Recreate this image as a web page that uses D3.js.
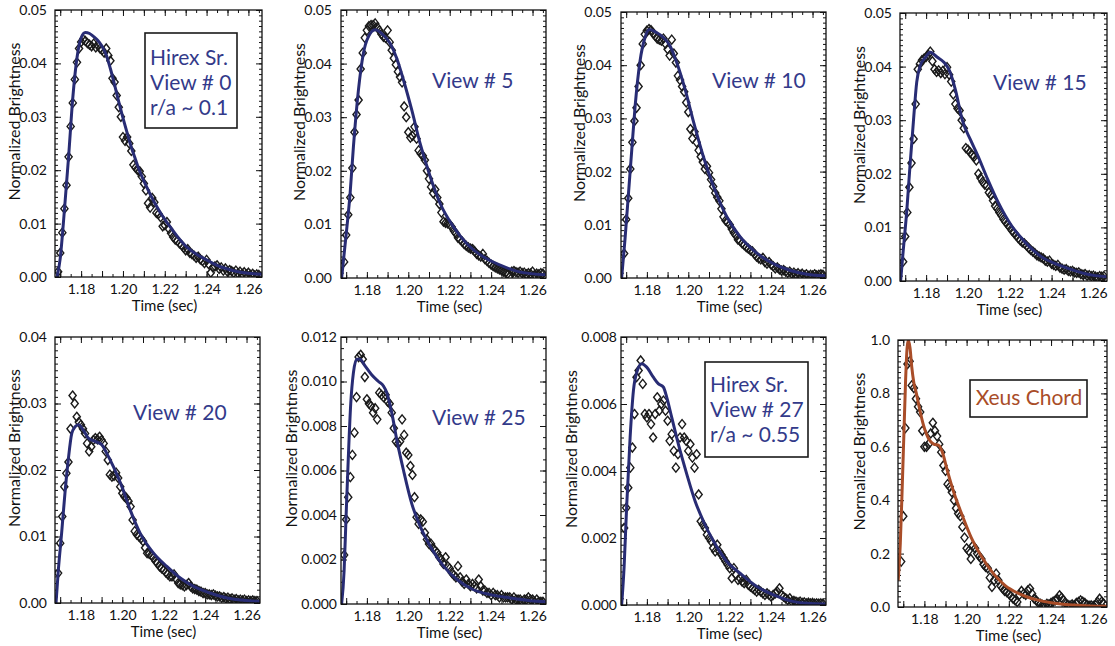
<!DOCTYPE html>
<html lang="en">
<head>
<meta charset="UTF-8">
<title>Normalized Brightness vs Time</title>
<script src="https://d3js.org/d3.v7.min.js"></script>
<style>
  body { margin: 0; background: #fff; }
  text { font-family: Lato, "Open Sans", sans-serif; }
</style>
</head>
<body>
<div id="chart"></div>
<script>
// sample times of the measured points (sec)
const times = [
  1.169,1.170,1.171,1.172,1.173,1.174,1.175,1.176,1.177,1.178,
  1.179,1.180,1.181,1.182,1.183,1.184,1.185,1.186,1.187,1.188,
  1.189,1.190,1.191,1.192,1.193,1.194,1.195,1.196,1.197,1.198,
  1.199,1.200,1.201,1.202,1.203,1.204,1.205,1.206,1.207,1.208,
  1.209,1.210,1.211,1.212,1.213,1.214,1.215,1.216,1.217,1.218,
  1.219,1.220,1.221,1.222,1.223,1.224,1.225,1.226,1.227,1.228,
  1.229,1.230,1.231,1.232,1.233,1.234,1.235,1.236,1.237,1.238,
  1.239,1.240,1.241,1.242,1.243,1.244,1.245,1.246,1.247,1.248,
  1.249,1.250,1.251,1.252,1.253,1.254,1.255,1.256,1.257,1.258,
  1.259,1.260,1.261,1.262,1.263,1.264,1.265
];

// measured brightness (diamonds), one list per view
const obsView0 = [
  0.0010,0.0045,0.0083,0.0128,0.0172,0.0225,0.0282,0.0326,0.0370,0.0402,
  0.0428,0.0440,0.0445,0.0442,0.0438,0.0435,0.0432,0.0437,0.0430,0.0434,
  0.0428,0.0425,0.0420,0.0428,0.0415,0.0405,0.0372,0.0365,0.0340,0.0318,
  0.0300,0.0262,0.0255,0.0262,0.0250,0.0236,0.0210,0.0205,0.0200,0.0198,
  0.0188,0.0175,0.0162,0.0138,0.0130,0.0148,0.0140,0.0120,0.0118,0.0112,
  0.0095,0.0097,0.0103,0.0090,0.0082,0.0075,0.0070,0.0068,0.0063,0.0060,
  0.0055,0.0050,0.0052,0.0045,0.0043,0.0040,0.0036,0.0038,0.0033,0.0030,
  0.0026,0.0032,0.0024,0.0008,0.0018,0.0020,0.0022,0.0015,0.0018,0.0012,
  0.0016,0.0010,0.0013,0.0011,0.0008,0.0012,0.0007,0.0010,0.0006,0.0009,
  0.0005,0.0008,0.0004,0.0006,0.0003,0.0005,0.0004
];
const obsView5 = [
  0.0030,0.0080,0.0118,0.0150,0.0205,0.0272,0.0305,0.0332,0.0390,0.0420,
  0.0448,0.0462,0.0470,0.0472,0.0472,0.0475,0.0468,0.0462,0.0455,0.0450,
  0.0448,0.0462,0.0440,0.0425,0.0410,0.0398,0.0385,0.0375,0.0365,0.0320,
  0.0300,0.0272,0.0262,0.0265,0.0282,0.0260,0.0238,0.0232,0.0228,0.0220,
  0.0200,0.0185,0.0170,0.0158,0.0165,0.0150,0.0138,0.0122,0.0105,0.0103,
  0.0102,0.0100,0.0095,0.0088,0.0083,0.0075,0.0072,0.0068,0.0063,0.0060,
  0.0057,0.0055,0.0054,0.0050,0.0045,0.0042,0.0040,0.0045,0.0035,0.0032,
  0.0028,0.0025,0.0022,0.0020,0.0018,0.0016,0.0014,0.0012,0.0010,0.0008,
  0.0003,0.0012,0.0013,0.0011,0.0010,0.0012,0.0009,0.0010,0.0007,0.0009,
  0.0008,0.0012,0.0006,0.0008,0.0007,0.0009,0.0008
];
const obsView10 = [
  0.0046,0.0110,0.0150,0.0205,0.0255,0.0295,0.0320,0.0360,0.0400,0.0440,
  0.0458,0.0465,0.0468,0.0466,0.0460,0.0455,0.0450,0.0448,0.0446,0.0450,
  0.0440,0.0430,0.0418,0.0448,0.0422,0.0405,0.0380,0.0372,0.0360,0.0350,
  0.0330,0.0312,0.0280,0.0262,0.0275,0.0255,0.0240,0.0228,0.0218,0.0205,
  0.0210,0.0198,0.0185,0.0172,0.0160,0.0152,0.0145,0.0130,0.0115,0.0108,
  0.0105,0.0100,0.0092,0.0085,0.0080,0.0072,0.0070,0.0065,0.0062,0.0058,
  0.0055,0.0052,0.0050,0.0045,0.0040,0.0037,0.0035,0.0038,0.0030,0.0027,
  0.0030,0.0025,0.0022,0.0018,0.0020,0.0016,0.0014,0.0015,0.0012,0.0010,
  0.0012,0.0008,0.0010,0.0007,0.0009,0.0006,0.0008,0.0005,0.0007,0.0004,
  0.0006,0.0005,0.0007,0.0005,0.0006,0.0007,0.0006
];
const obsView15 = [
  0.0036,0.0083,0.0128,0.0175,0.0220,0.0265,0.0330,0.0395,0.0405,0.0412,
  0.0415,0.0418,0.0422,0.0428,0.0410,0.0395,0.0390,0.0393,0.0388,0.0392,
  0.0386,0.0399,0.0385,0.0372,0.0348,0.0330,0.0322,0.0318,0.0300,0.0285,
  0.0248,0.0245,0.0240,0.0235,0.0232,0.0225,0.0200,0.0192,0.0185,0.0180,
  0.0178,0.0165,0.0160,0.0150,0.0140,0.0135,0.0128,0.0122,0.0115,0.0110,
  0.0105,0.0100,0.0094,0.0090,0.0085,0.0080,0.0076,0.0072,0.0070,0.0066,
  0.0062,0.0058,0.0055,0.0052,0.0048,0.0046,0.0044,0.0042,0.0038,0.0036,
  0.0038,0.0032,0.0030,0.0028,0.0030,0.0025,0.0023,0.0021,0.0022,0.0019,
  0.0018,0.0019,0.0016,0.0015,0.0016,0.0013,0.0012,0.0013,0.0010,0.0011,
  0.0009,0.0010,0.0008,0.0007,0.0009,0.0008,0.0009
];
const obsView20 = [
  0.0045,0.0090,0.0130,0.0175,0.0195,0.0212,0.0262,0.0312,0.0300,0.0280,
  0.0272,0.0268,0.0262,0.0255,0.0240,0.0228,0.0235,0.0245,0.0248,0.0246,
  0.0250,0.0245,0.0240,0.0228,0.0215,0.0193,0.0190,0.0191,0.0196,0.0188,
  0.0175,0.0165,0.0160,0.0158,0.0153,0.0145,0.0125,0.0108,0.0103,0.0100,
  0.0097,0.0093,0.0083,0.0075,0.0074,0.0072,0.0068,0.0063,0.0060,0.0055,
  0.0052,0.0050,0.0046,0.0043,0.0040,0.0040,0.0043,0.0036,0.0030,0.0028,
  0.0027,0.0025,0.0027,0.0030,0.0025,0.0022,0.0021,0.0020,0.0018,0.0017,
  0.0015,0.0015,0.0013,0.0013,0.0012,0.0013,0.0011,0.0010,0.0010,0.0008,
  0.0009,0.0007,0.0008,0.0006,0.0007,0.0005,0.0006,0.0004,0.0005,0.0004,
  0.0005,0.0003,0.0004,0.0003,0.0004,0.0003,0.0003
];
const obsView25 = [
  0.0022,0.0038,0.0048,0.0057,0.0067,0.0077,0.0093,0.0111,0.0112,0.0110,
  0.0102,0.0092,0.0090,0.0089,0.0086,0.0088,0.0083,0.0095,0.0094,0.0093,
  0.0094,0.0091,0.0090,0.0086,0.0079,0.0073,0.0072,0.0073,0.0083,0.0076,
  0.0068,0.0067,0.0062,0.0058,0.0048,0.0039,0.0036,0.0038,0.0037,0.0032,
  0.0029,0.0027,0.0027,0.0025,0.0024,0.0023,0.0021,0.0020,0.0018,0.0021,
  0.0017,0.0016,0.0014,0.0013,0.0012,0.0017,0.0012,0.0010,0.0009,0.0011,
  0.0009,0.0008,0.0009,0.0008,0.0007,0.0011,0.0008,0.0006,0.0006,0.0005,
  0.0005,0.0004,0.0005,0.0004,0.0004,0.0003,0.0004,0.0003,0.0003,0.0003,
  0.0003,0.0002,0.0003,0.0002,0.0002,0.0002,0.0001,0.0002,0.0002,0.0003,
  0.0002,0.0002,0.0001,0.0002,0.0001,0.0001,0.0001
];
const obsView27 = [
  0.0023,0.0029,0.0035,0.0041,0.0047,0.0057,0.0068,0.0070,0.0073,0.0066,
  0.0057,0.0056,0.0057,0.0054,0.0050,0.0057,0.0062,0.0058,0.0060,0.0061,
  0.0058,0.0055,0.0049,0.0051,0.0046,0.0041,0.0045,0.0050,0.0054,0.0050,
  0.0049,0.0046,0.0048,0.0044,0.0041,0.0045,0.0033,0.0025,0.0024,0.0023,
  0.0021,0.0020,0.0019,0.0017,0.0016,0.0018,0.0016,0.0015,0.0014,0.0013,
  0.0012,0.0011,0.0008,0.0011,0.0009,0.00075,0.0008,0.0007,0.00065,0.00075,
  0.0006,0.00055,0.0005,0.00045,0.0004,0.00045,0.0004,0.00035,0.0003,0.00035,
  0.0003,0.00025,0.0003,0.00035,0.0004,0.0005,0.0003,0.00025,0.0002,0.00015,
  0.0002,0.0001,0.00012,0.0001,0.00008,0.0001,0.00006,0.00008,0.00005,0.00007,
  0.00005,0.00006,0.00004,0.00005,0.00004,0.00005,0.00004
];
const obsXeus = [
  0.17,0.34,0.67,0.91,0.92,0.83,0.82,0.78,0.75,0.73,
  0.66,0.60,0.60,0.61,0.65,0.69,0.66,0.64,0.61,0.58,
  0.53,0.51,0.46,0.45,0.43,0.40,0.37,0.35,0.34,0.30,
  0.26,0.22,0.21,0.18,0.23,0.22,0.20,0.19,0.18,0.16,
  0.15,0.145,0.11,0.075,0.10,0.125,0.10,0.08,0.07,0.06,
  0.056,0.05,0.04,0.031,0.025,0.019,0.045,0.06,0.05,0.045,
  0.0625,0.069,0.05,0.031,0.025,0.015,0.012,0.008,0.006,0.012,
  0.010,0.015,0.020,0.025,0.03,0.044,0.035,0.025,0.012,0.008,
  0.006,0.010,0.006,0.015,0.019,0.025,0.02,0.015,0.008,0.005,
  0.006,0.004,0.008,0.019,0.031,0.02,0.012
];

// model fits (solid lines) as [time, brightness]
const fitView0 = [[1.1685,0],[1.170,0.0035],[1.172,0.0125],[1.174,0.0225],[1.176,0.0335],[1.178,0.0410],[1.180,0.0448],[1.182,0.0458],[1.184,0.0456],[1.186,0.0450],[1.188,0.0443],[1.190,0.0432],[1.192,0.0416],[1.194,0.0390],[1.196,0.0360],[1.198,0.0328],[1.200,0.0298],[1.202,0.0270],[1.204,0.0243],[1.206,0.0220],[1.208,0.0198],[1.210,0.0180],[1.212,0.0163],[1.215,0.0140],[1.218,0.0120],[1.222,0.0097],[1.226,0.0076],[1.230,0.0058],[1.235,0.0043],[1.240,0.0032],[1.245,0.0022],[1.250,0.0015],[1.255,0.0010],[1.260,0.0007],[1.2665,0.0005]];
const fitView5 = [[1.1678,0],[1.1702,0.0089],[1.1719,0.0158],[1.1735,0.0245],[1.1759,0.0350],[1.1783,0.0419],[1.1807,0.0450],[1.1840,0.0463],[1.1872,0.0456],[1.1912,0.0438],[1.1944,0.0410],[1.1977,0.0369],[1.2017,0.0313],[1.2057,0.0251],[1.2106,0.0189],[1.2154,0.0139],[1.2219,0.0095],[1.2283,0.0064],[1.2364,0.0039],[1.2444,0.0024],[1.2541,0.0011],[1.2665,0.0006]];
const fitView10 = [[1.1678,0],[1.1694,0.0071],[1.1710,0.0153],[1.1727,0.0241],[1.1743,0.0322],[1.1767,0.0408],[1.1791,0.0452],[1.1812,0.0467],[1.1848,0.0461],[1.1880,0.0452],[1.1912,0.0436],[1.1944,0.0405],[1.1985,0.0354],[1.2025,0.0294],[1.2073,0.0228],[1.2122,0.0172],[1.2186,0.0115],[1.2251,0.0077],[1.2315,0.0052],[1.2396,0.0030],[1.2493,0.0014],[1.2573,0.0007],[1.2665,0.0004]];
const fitView15 = [[1.1678,0],[1.1690,0.0055],[1.1707,0.0129],[1.1723,0.0216],[1.1739,0.0297],[1.1755,0.0371],[1.1772,0.0402],[1.1796,0.0417],[1.1820,0.0427],[1.1852,0.0418],[1.1885,0.0408],[1.1912,0.0392],[1.1941,0.0355],[1.1973,0.0300],[1.2014,0.0262],[1.2046,0.0235],[1.2094,0.0190],[1.2143,0.0148],[1.2207,0.0104],[1.2272,0.0073],[1.2352,0.0045],[1.2433,0.0030],[1.2514,0.0019],[1.2594,0.0011],[1.2665,0.0008]];
const fitView20 = [[1.1680,0],[1.1690,0.0045],[1.1707,0.0105],[1.1723,0.0165],[1.1739,0.0215],[1.1756,0.0255],[1.1772,0.0265],[1.1788,0.0268],[1.1812,0.0260],[1.1836,0.0248],[1.1869,0.0243],[1.1901,0.0238],[1.1925,0.0225],[1.1957,0.0205],[1.1998,0.0175],[1.2038,0.0140],[1.2086,0.0105],[1.2151,0.0075],[1.2215,0.0055],[1.2280,0.00375],[1.2344,0.0025],[1.2425,0.0015],[1.2506,0.00075],[1.2586,0.0004],[1.2665,0.00025]];
const fitView25 = [[1.1678,0],[1.1690,0.0015],[1.1699,0.0038],[1.1710,0.0065],[1.1722,0.0090],[1.1735,0.0104],[1.1751,0.0110],[1.1767,0.0110],[1.1791,0.0107],[1.1823,0.0103],[1.1856,0.0100],[1.1880,0.0098],[1.1896,0.0095],[1.1920,0.0086],[1.1944,0.0074],[1.1977,0.0060],[1.2017,0.0045],[1.2057,0.0035],[1.2106,0.0026],[1.2170,0.0017],[1.2235,0.0011],[1.2315,0.00064],[1.2396,0.00042],[1.2493,0.00027],[1.2590,0.00015],[1.2665,0.0001]];
const fitView27 = [[1.1678,0],[1.1690,0.00114],[1.1702,0.0029],[1.1719,0.0050],[1.1735,0.0064],[1.1754,0.0070],[1.1775,0.0072],[1.1799,0.0071],[1.1831,0.0068],[1.1856,0.0066],[1.1880,0.0065],[1.1896,0.0062],[1.1920,0.0056],[1.1952,0.0048],[1.1993,0.0039],[1.2033,0.0031],[1.2073,0.0025],[1.2122,0.0019],[1.2186,0.0013],[1.2251,0.00094],[1.2331,0.00055],[1.2412,0.0003],[1.2509,0.0001],[1.2573,0.00005],[1.2665,0.00003]];
const fitXeus = [[1.1676,0.10],[1.1686,0.24],[1.1695,0.45],[1.1703,0.65],[1.1711,0.85],[1.1718,0.97],[1.1724,1.0],[1.1732,0.97],[1.1740,0.90],[1.1750,0.84],[1.1762,0.80],[1.1775,0.75],[1.1796,0.68],[1.1820,0.63],[1.1844,0.61],[1.1869,0.605],[1.1885,0.58],[1.1909,0.51],[1.1941,0.425],[1.1981,0.34],[1.2022,0.26],[1.2070,0.19],[1.2127,0.125],[1.2183,0.08],[1.2248,0.05],[1.2328,0.0275],[1.2409,0.015],[1.2506,0.0075],[1.2586,0.004],[1.2665,0.0025]];

// tick labels
const xTickLabels = [1.18, 1.20, 1.22, 1.24, 1.26];
const yTicks05 = [0, 0.01, 0.02, 0.03, 0.04, 0.05];
const yTicks04 = [0, 0.01, 0.02, 0.03, 0.04];
const yTicks012 = [0, 0.002, 0.004, 0.006, 0.008, 0.010, 0.012];
const yTicks008 = [0, 0.002, 0.004, 0.006, 0.008];
const yTicks1 = [0, 0.2, 0.4, 0.6, 0.8, 1.0];

// annotation text
const noteView0 = ['Hirex Sr.', 'View # 0', 'r/a ~ 0.1'];
const noteView5 = ['View # 5'];
const noteView10 = ['View # 10'];
const noteView15 = ['View # 15'];
const noteView20 = ['View # 20'];
const noteView25 = ['View # 25'];
const noteView27 = ['Hirex Sr.', 'View # 27', 'r/a ~ 0.55'];
const noteXeus = ['Xeus Chord'];

const blue = '#282c74', blueText = '#333a8a', rust = '#a94d28';

const panels = [
  {obs: obsView0,  fit: fitView0,  yTicks: yTicks05,  fmt: '.2f', minor: 50, note: noteView0,  color: blue, textColor: blueText},
  {obs: obsView5,  fit: fitView5,  yTicks: yTicks05,  fmt: '.2f', minor: 50, note: noteView5,  color: blue, textColor: blueText},
  {obs: obsView10, fit: fitView10, yTicks: yTicks05,  fmt: '.2f', minor: 50, note: noteView10, color: blue, textColor: blueText},
  {obs: obsView15, fit: fitView15, yTicks: yTicks05,  fmt: '.2f', minor: 50, note: noteView15, color: blue, textColor: blueText},
  {obs: obsView20, fit: fitView20, yTicks: yTicks04,  fmt: '.2f', minor: 40, note: noteView20, color: blue, textColor: blueText},
  {obs: obsView25, fit: fitView25, yTicks: yTicks012, fmt: '.3f', minor: 24, note: noteView25, color: blue, textColor: blueText},
  {obs: obsView27, fit: fitView27, yTicks: yTicks008, fmt: '.3f', minor: 40, note: noteView27, color: blue, textColor: blueText},
  {obs: obsXeus,   fit: fitXeus,   yTicks: yTicks1,   fmt: '.1f', minor: 50, note: noteXeus,   color: rust, textColor: rust}
];

// plot boxes in page pixels, label offsets, and where each note sits inside its box
const layout = [
  {x: 55,  y: 10,  w: 207, h: 267, pad: 8, title: 35, note: {x: 95, y: 55, box: [90, 23, 92, 95]}},
  {x: 341, y: 10,  w: 205, h: 268, pad: 9, title: 36, note: {x: 91, y: 78}},
  {x: 621, y: 12,  w: 205, h: 266, pad: 9, title: 36, note: {x: 91, y: 76}},
  {x: 900, y: 13,  w: 207, h: 268, pad: 8, title: 35, note: {x: 93, y: 77}},
  {x: 55,  y: 337, w: 205, h: 266, pad: 8, title: 35, note: {x: 78, y: 83}},
  {x: 341, y: 337, w: 205, h: 267, pad: 4, title: 44, note: {x: 91, y: 88}},
  {x: 621, y: 337, w: 205, h: 268, pad: 4, title: 44, note: {x: 89, y: 55, box: [84, 25, 103, 95]}},
  {x: 898, y: 340, w: 209, h: 267, pad: 8, title: 33, note: {x: 131, y: 65, anchor: 'middle', box: [72, 40, 117, 37]}}
];

const svg = d3.select('#chart').append('svg')
  .attr('width', 1115)
  .attr('height', 646);

const diamond = 'M0,-4.5L3.6,0L0,4.5L-3.6,0Z';

function styleAxis(g) {
  g.select('.domain').remove();
  g.selectAll('line').attr('stroke', '#111').attr('stroke-width', 1);
  g.attr('font-family', 'Lato, sans-serif').attr('font-size', 14).attr('fill', '#111');
  g.selectAll('text').attr('fill', '#111');
}

panels.forEach((p, i) => {
  const b = layout[i];
  const x = d3.scaleLinear().domain([1.1675, 1.2665]).range([b.x, b.x + b.w]);
  const y = d3.scaleLinear().domain([0, p.yTicks[p.yTicks.length - 1]]).range([b.y + b.h, b.y]);
  const g = svg.append('g');

  g.append('clipPath').attr('id', 'clip' + i)
    .append('rect').attr('x', b.x).attr('y', b.y).attr('width', b.w).attr('height', b.h);

  // ticks on all four sides, pointing inward
  const xMajor = x.ticks(10), xMinor = x.ticks(20);
  const yMinor = y.ticks(p.minor);
  [[d3.axisBottom, b.y + b.h], [d3.axisTop, b.y]].forEach(([ax, pos]) => {
    g.append('g').attr('transform', 'translate(0,' + pos + ')')
      .call(ax(x).tickValues(xMinor).tickSize(-3).tickFormat('')).call(styleAxis);
    g.append('g').attr('transform', 'translate(0,' + pos + ')')
      .call(ax(x).tickValues(xMajor).tickSize(-6).tickFormat('')).call(styleAxis);
  });
  [[d3.axisLeft, b.x], [d3.axisRight, b.x + b.w]].forEach(([ax, pos]) => {
    g.append('g').attr('transform', 'translate(' + pos + ',0)')
      .call(ax(y).tickValues(yMinor).tickSize(-3).tickFormat('')).call(styleAxis);
    g.append('g').attr('transform', 'translate(' + pos + ',0)')
      .call(ax(y).tickValues(p.yTicks).tickSize(-6).tickFormat('')).call(styleAxis);
  });

  // tick labels
  g.append('g').attr('transform', 'translate(0,' + (b.y + b.h) + ')')
    .call(d3.axisBottom(x).tickValues(xTickLabels).tickSize(0).tickPadding(7).tickFormat(d3.format('.2f')))
    .call(styleAxis);
  g.append('g').attr('transform', 'translate(' + b.x + ',0)')
    .call(d3.axisLeft(y).tickValues(p.yTicks).tickSize(0).tickPadding(b.pad).tickFormat(d3.format(p.fmt)))
    .call(styleAxis);

  // axis titles
  g.append('text')
    .attr('transform', 'translate(' + (b.x - b.title) + ',' + (b.y + b.h / 2 - 22) + ') rotate(-90)')
    .attr('text-anchor', 'middle')
    .attr('font-size', 16)
    .attr('fill', '#111')
    .text('Normalized Brightness');
  g.append('text')
    .attr('x', b.x + b.w / 2 + 6)
    .attr('y', b.y + b.h + 34)
    .attr('text-anchor', 'middle')
    .attr('font-size', 15)
    .attr('fill', '#111')
    .text('Time (sec)');

  // data
  const plot = g.append('g').attr('clip-path', 'url(#clip' + i + ')');
  plot.selectAll('path.obs')
    .data(p.obs)
    .join('path')
    .attr('class', 'obs')
    .attr('d', diamond)
    .attr('transform', (d, k) => 'translate(' + x(times[k]) + ',' + y(d) + ')')
    .attr('fill', 'none')
    .attr('stroke', '#1a1a1a')
    .attr('stroke-width', 1.4);

  plot.append('path')
    .datum(p.fit)
    .attr('fill', 'none')
    .attr('stroke', p.color)
    .attr('stroke-width', 3)
    .attr('stroke-linejoin', 'round')
    .attr('d', d3.line().x(d => x(d[0])).y(d => y(d[1])).curve(d3.curveMonotoneX));

  // frame
  g.append('rect')
    .attr('x', b.x).attr('y', b.y).attr('width', b.w).attr('height', b.h)
    .attr('fill', 'none').attr('stroke', '#111').attr('stroke-width', 1.3);

  // annotation
  const n = b.note;
  if (n.box) {
    g.append('rect')
      .attr('x', b.x + n.box[0]).attr('y', b.y + n.box[1])
      .attr('width', n.box[2]).attr('height', n.box[3])
      .attr('fill', '#fff').attr('stroke', '#1a1a1a').attr('stroke-width', 1.6);
  }
  g.append('g').selectAll('text')
    .data(p.note)
    .join('text')
    .attr('x', b.x + n.x)
    .attr('y', (d, k) => b.y + n.y + k * 25)
    .attr('text-anchor', n.anchor || 'start')
    .attr('font-size', 21)
    .attr('fill', p.textColor)
    .text(d => d);
});
</script>
</body>
</html>
